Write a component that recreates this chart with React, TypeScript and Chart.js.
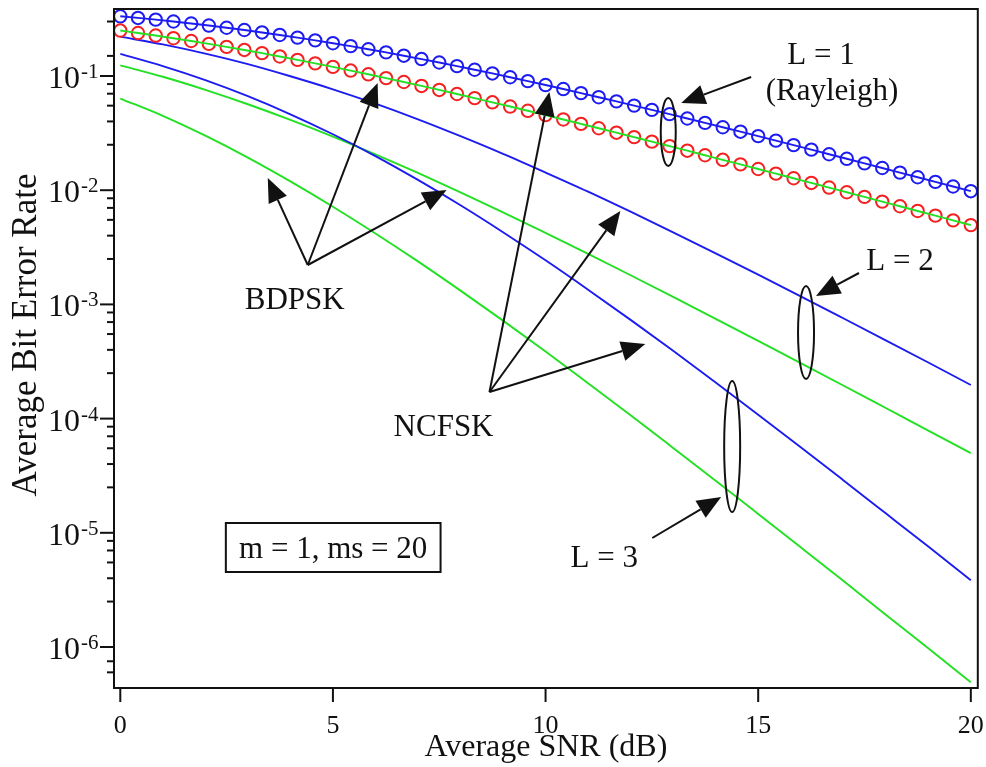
import React, { useEffect, useRef } from "react";
import { Chart, registerables } from "chart.js";

Chart.register(...registerables);

// ---------- data ----------
const SNR_DB = [0, 1, 2, 3, 4, 5, 6, 7, 8, 9, 10, 11, 12, 13, 14, 15, 16, 17, 18, 19, 20];

const NCFSK_L2 = [0.221, 0.189, 0.157, 0.127, 0.0995, 0.0765, 0.0572, 0.0417, 0.0297, 0.0208, 0.01428,
  0.00971, 0.00648, 0.00428, 0.0028, 0.00182, 0.001176, 0.000756, 0.000485, 0.00031, 0.000197];
const NCFSK_L3 = [0.156, 0.122, 0.092, 0.0665, 0.0462, 0.0309, 0.0199, 0.0123, 0.00738, 0.00429, 0.002432,
  0.001346, 0.000732, 0.000392, 0.000207, 0.0001083, 5.62e-5, 2.89e-5, 1.48e-5, 7.57e-6, 3.85e-6];
const BDPSK_L2 = [0.124, 0.0985, 0.0757, 0.0566, 0.0413, 0.0295, 0.0206, 0.01418, 0.00959, 0.0064, 0.00423,
  0.00277, 0.0018, 0.001162, 0.000747, 0.000479, 0.000306, 0.000195, 0.0001238, 7.86e-5, 4.98e-5];
const BDPSK_L3 = [0.0635, 0.0448, 0.03, 0.0193, 0.01195, 0.00717, 0.00418, 0.00238, 0.00132, 0.000721, 0.000387,
  0.000204, 0.0001069, 5.54e-5, 2.86e-5, 1.464e-5, 7.47e-6, 3.8e-6, 1.92e-6, 9.73e-7, 4.91e-7];

// simulation points (markers), L = 1 (Rayleigh)
const SIM_SNR_DB = [0, 0.417, 0.833, 1.25, 1.667, 2.083, 2.5, 2.917, 3.333, 3.75, 4.167, 4.583, 5, 5.417,
  5.833, 6.25, 6.667, 7.083, 7.5, 7.917, 8.333, 8.75, 9.167, 9.583, 10, 10.417, 10.833, 11.25, 11.667,
  12.083, 12.5, 12.917, 13.333, 13.75, 14.167, 14.583, 15, 15.417, 15.833, 16.25, 16.667, 17.083, 17.5,
  17.917, 18.333, 18.75, 19.167, 19.583, 20];
const NCFSK_L1 = [0.3333, 0.3225, 0.3114, 0.3, 0.2884, 0.2766, 0.2647, 0.2527, 0.2407, 0.2288, 0.2169,
  0.2052, 0.1937, 0.1825, 0.1715, 0.1609, 0.1506, 0.1407, 0.1312, 0.1221, 0.1135, 0.1053, 0.09752,
  0.09021, 0.08333, 0.07688, 0.07085, 0.06521, 0.05996, 0.05508, 0.05055, 0.04635, 0.04247, 0.03889,
  0.03559, 0.03254, 0.02974, 0.02717, 0.02481, 0.02264, 0.02065, 0.01884, 0.01717, 0.01565, 0.01426,
  0.01299, 0.01183, 0.01077, 0.009804];
const BDPSK_L1 = [0.25, 0.238, 0.2261, 0.2143, 0.2026, 0.1912, 0.18, 0.1691, 0.1585, 0.1483, 0.1385,
  0.1291, 0.1201, 0.1116, 0.1035, 0.09584, 0.08863, 0.08185, 0.07549, 0.06955, 0.064, 0.05883, 0.05403,
  0.04958, 0.04545, 0.04164, 0.03812, 0.03488, 0.03189, 0.02914, 0.02662, 0.0243, 0.02218, 0.02023,
  0.01845, 0.01682, 0.01533, 0.01396, 0.01272, 0.01158, 0.01055, 0.0096, 0.008736, 0.00795, 0.007233,
  0.00658, 0.005985, 0.005444, 0.00495];

// axes
const X_MIN = -0.148;
const X_MAX = 20.164;
const Y_MIN = 4.375e-7;
const Y_MAX = 0.3861;
const X_TICKS = [0, 5, 10, 15, 20];
const X_TICK_LABELS = ["0", "5", "10", "15", "20"];
const Y_EXPONENTS = [-1, -2, -3, -4, -5, -6];
const Y_MINOR = [0.3, 0.15,
  0.085, 0.07, 0.055, 0.04, 0.025,
  0.0085, 0.007, 0.0055, 0.004, 0.0025,
  8.5e-4, 7e-4, 5.5e-4, 4e-4, 2.5e-4,
  8.5e-5, 7e-5, 5.5e-5, 4e-5, 2.5e-5,
  8.5e-6, 7e-6, 5.5e-6, 4e-6, 2.5e-6,
  7.5e-7, 6e-7];

const X_TITLE = "Average SNR (dB)";
const Y_TITLE = "Average Bit Error Rate";

// annotations (in data units: dB, log10 BER)
const TEXT_LABELS = ["L = 1", "(Rayleigh)", "L = 2", "L = 3", "BDPSK", "NCFSK"];
const TEXT_DB = [16.478, 16.736, 18.333, 11.382, 4.102, 7.601];
const TEXT_LOG = [-0.8949, -1.2102, -2.6988, -5.2995, -3.0403, -4.1524];

const BOX_TEXT = "m = 1, ms = 20";
const BOX_DB = [2.482, 7.531];
const BOX_LOG = [-4.9142, -5.3433];
const BOX_TEXT_POS = [5.006, -5.2207];

// [from dB, from log, to dB, to log]
const ARROWS = [
  [14.834, -1.0088, 13.19, -1.2364],
  [17.37, -2.725, 16.36, -2.9264],
  [12.509, -5.0455, 14.13, -4.6865],
  [4.408, -2.655, 3.468, -1.8932],
  [4.408, -2.655, 6.051, -1.0613],
  [4.408, -2.655, 7.672, -1.9982],
  [8.681, -3.7671, 10.09, -1.1401],
  [8.681, -3.7671, 11.758, -2.1821],
  [8.681, -3.7671, 12.345, -3.3468],
];

// [center dB, center log, rx px, ry px]
const ELLIPSES = [
  [12.885, -1.4904, 7.5, 34],
  [16.125, -3.2461, 8, 46.5],
  [14.388, -4.2443, 8, 65.5],
];

// ---------- styles ----------
const BLUE = "#1c1cf2";
const GREEN = "#22e022";
const RED = "#f52020";
const INK = "#111111";
const SERIF = "'Liberation Serif', 'Times New Roman', Times, serif";

const pts = (xs: number[], ys: number[]) => xs.map((x, i) => ({ x, y: ys[i] }));

const decorations = {
  id: "decorations",
  afterDatasetsDraw(chart: any) {
    const { ctx, chartArea: a, scales } = chart;
    const X = (v: number) => scales.x.getPixelForValue(v);
    const Y = (v: number) => scales.y.getPixelForValue(v);
    const YL = (lg: number) => scales.y.getPixelForValue(Math.pow(10, lg));
    ctx.save();
    ctx.strokeStyle = INK;
    ctx.fillStyle = INK;
    ctx.lineWidth = 2;
    ctx.lineCap = "butt";

    // frame
    ctx.strokeRect(a.left, a.top, a.right - a.left, a.bottom - a.top);

    // x ticks
    ctx.font = `26px ${SERIF}`;
    ctx.textAlign = "center";
    ctx.textBaseline = "alphabetic";
    X_TICKS.forEach((t, i) => {
      const px = X(t);
      ctx.beginPath();
      ctx.moveTo(px, a.bottom);
      ctx.lineTo(px, a.bottom + 14);
      ctx.stroke();
      ctx.fillText(X_TICK_LABELS[i], px, a.bottom + 45);
    });

    // y ticks
    Y_MINOR.forEach((v) => {
      const py = Y(v);
      ctx.beginPath();
      ctx.moveTo(a.left - 7, py);
      ctx.lineTo(a.left, py);
      ctx.stroke();
    });
    Y_EXPONENTS.forEach((e) => {
      const py = Y(Math.pow(10, e));
      ctx.beginPath();
      ctx.moveTo(a.left - 14, py);
      ctx.lineTo(a.left, py);
      ctx.stroke();
      ctx.textAlign = "right";
      ctx.font = `32px ${SERIF}`;
      ctx.fillText("10", a.left - 34, py + 12);
      ctx.textAlign = "left";
      ctx.font = `21px ${SERIF}`;
      ctx.fillText(String(e), a.left - 33, py + 2);
    });

    // axis titles
    ctx.textAlign = "center";
    ctx.font = `32px ${SERIF}`;
    ctx.fillText(X_TITLE, (a.left + a.right) / 2, 756);
    ctx.save();
    ctx.translate(36, 335);
    ctx.rotate(-Math.PI / 2);
    ctx.font = `35px ${SERIF}`;
    ctx.fillText(Y_TITLE, 0, 0);
    ctx.restore();

    // annotation texts
    ctx.font = `31px ${SERIF}`;
    ctx.textAlign = "center";
    TEXT_LABELS.forEach((t, i) => {
      ctx.fillText(t, X(TEXT_DB[i]), YL(TEXT_LOG[i]));
    });

    // box
    const bl = X(BOX_DB[0]), br = X(BOX_DB[1]);
    const bt = YL(BOX_LOG[0]), bb = YL(BOX_LOG[1]);
    ctx.strokeRect(bl, bt, br - bl, bb - bt);
    ctx.fillText(BOX_TEXT, X(BOX_TEXT_POS[0]), YL(BOX_TEXT_POS[1]));

    // arrows
    ARROWS.forEach(([fx, fl, tx, tl]) => {
      const x0 = X(fx), y0 = YL(fl), x1 = X(tx), y1 = YL(tl);
      const ang = Math.atan2(y1 - y0, x1 - x0);
      const L = 24, W = 10;
      const bx = x1 - L * Math.cos(ang), by = y1 - L * Math.sin(ang);
      ctx.beginPath();
      ctx.moveTo(x0, y0);
      ctx.lineTo(bx, by);
      ctx.stroke();
      ctx.beginPath();
      ctx.moveTo(x1, y1);
      ctx.lineTo(bx + W * Math.sin(ang), by - W * Math.cos(ang));
      ctx.lineTo(bx - W * Math.sin(ang), by + W * Math.cos(ang));
      ctx.closePath();
      ctx.fill();
    });

    // ellipses
    ELLIPSES.forEach(([cx, cl, rx, ry]) => {
      ctx.beginPath();
      ctx.ellipse(X(cx), YL(cl), rx, ry, 0, 0, Math.PI * 2);
      ctx.stroke();
    });

    ctx.restore();
  },
};

export default function App() {
  const ref = useRef<HTMLCanvasElement | null>(null);

  useEffect(() => {
    if (!ref.current) return;
    const lineDs = (label: string, xs: number[], ys: number[], color: string) => ({
      label,
      data: pts(xs, ys),
      borderColor: color,
      borderWidth: 1.9,
      pointRadius: 0,
      fill: false,
      cubicInterpolationMode: "monotone" as const,
      clip: false as any,
    });
    const chart = new Chart(ref.current, {
      type: "line",
      data: {
        datasets: [
          lineDs("BDPSK L=1", SIM_SNR_DB, BDPSK_L1, GREEN),
          {
            label: "BDPSK L=1 sim",
            data: pts(SIM_SNR_DB, BDPSK_L1),
            showLine: false,
            borderColor: RED,
            pointRadius: 6.2,
            pointBorderWidth: 2,
            pointBorderColor: RED,
            pointBackgroundColor: "rgba(0,0,0,0)",
            clip: false as any,
          },
          {
            label: "NCFSK L=1",
            data: pts(SIM_SNR_DB, NCFSK_L1),
            showLine: true,
            borderColor: BLUE,
            borderWidth: 1.9,
            pointRadius: 6.2,
            pointBorderWidth: 2,
            pointBorderColor: BLUE,
            pointBackgroundColor: "rgba(0,0,0,0)",
            clip: false as any,
          },
          lineDs("NCFSK L=2", SNR_DB, NCFSK_L2, BLUE),
          lineDs("NCFSK L=3", SNR_DB, NCFSK_L3, BLUE),
          lineDs("BDPSK L=2", SNR_DB, BDPSK_L2, GREEN),
          lineDs("BDPSK L=3", SNR_DB, BDPSK_L3, GREEN),
        ],
      },
      options: {
        responsive: false,
        maintainAspectRatio: false,
        animation: false,
        devicePixelRatio: 1,
        events: [],
        layout: { padding: { left: 114, right: 7, top: 9, bottom: 79 } },
        plugins: { legend: { display: false }, tooltip: { enabled: false } },
        scales: {
          x: { type: "linear", min: X_MIN, max: X_MAX, bounds: "data", display: false },
          y: { type: "logarithmic", min: Y_MIN, max: Y_MAX, bounds: "data", display: false },
        },
      },
      plugins: [decorations],
    });
    return () => chart.destroy();
  }, []);

  return (
    <div style={{ position: "absolute", left: 0, top: 0, width: 986, height: 767, background: "#fff" }}>
      <canvas ref={ref} width={986} height={767} style={{ display: "block" }} />
    </div>
  );
}
